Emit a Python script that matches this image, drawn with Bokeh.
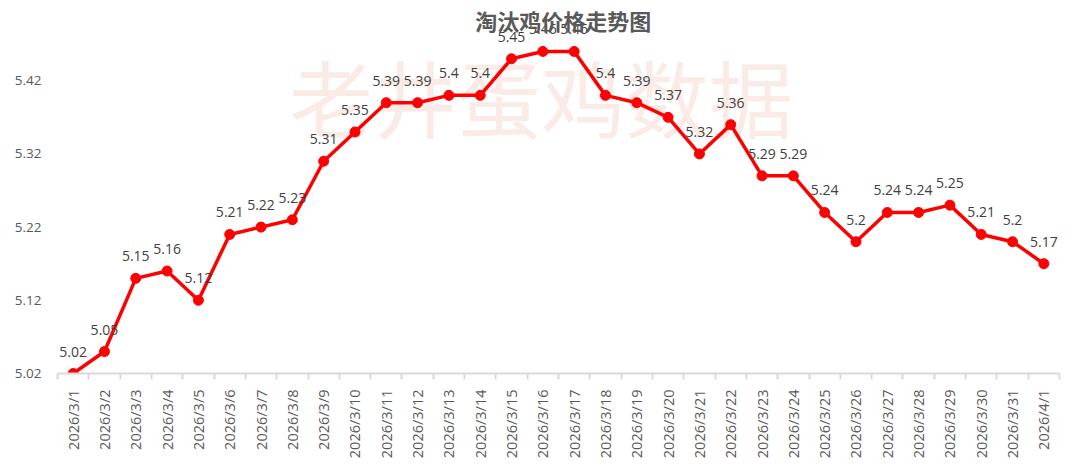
import math
from bokeh.plotting import figure
from bokeh.models import Range1d, FixedTicker, ColumnDataSource, Label
from bokeh.core.properties import value
from bokeh.embed import file_html
from bokeh.resources import INLINE

dates = ["2026/3/1", "2026/3/2", "2026/3/3", "2026/3/4", "2026/3/5", "2026/3/6", "2026/3/7", "2026/3/8",
         "2026/3/9", "2026/3/10", "2026/3/11", "2026/3/12", "2026/3/13", "2026/3/14", "2026/3/15", "2026/3/16",
         "2026/3/17", "2026/3/18", "2026/3/19", "2026/3/20", "2026/3/21", "2026/3/22", "2026/3/23", "2026/3/24",
         "2026/3/25", "2026/3/26", "2026/3/27", "2026/3/28", "2026/3/29", "2026/3/30", "2026/3/31", "2026/4/1"]
prices = [5.02, 5.05, 5.15, 5.16, 5.12, 5.21, 5.22, 5.23, 5.31, 5.35, 5.39, 5.39, 5.4, 5.4, 5.45, 5.46,
          5.46, 5.4, 5.39, 5.37, 5.32, 5.36, 5.29, 5.29, 5.24, 5.2, 5.24, 5.24, 5.25, 5.21, 5.2, 5.17]
y_ticks = [5.02, 5.12, 5.22, 5.32, 5.42]
title_text = "淘汰鸡价格走势图"
watermark = "老井蛋鸡数据"

n = len(dates)
xs = [i + 0.5 for i in range(n)]
labels = ["{:g}".format(v) for v in prices]
src = ColumnDataSource(dict(x=xs, y=prices, lab=labels))

p = figure(width=1072, height=461, output_backend="svg", toolbar_location=None,
           x_range=Range1d(0, n), y_range=Range1d(5.02, 5.5296),
           min_border_left=57, min_border_right=13, min_border_top=0, min_border_bottom=79)
p.outline_line_color = None
p.xgrid.visible = False
p.ygrid.visible = False
p.background_fill_color = "white"
p.border_fill_color = "white"

# watermark
p.text(x=[15.44], y=[5.40], text=[watermark], text_font=value("Noto Sans CJK SC"),
       text_font_size="84px", text_color="#fbebe6", text_align="center", text_baseline="middle")

p.line("x", "y", source=src, line_color="#ff0000", line_width=3.5)
p.scatter("x", "y", source=src, size=10, fill_color="#ff0000", line_color="#ff0000")
p.text("x", "y", text="lab", source=src, text_font=value("Open Sans"), text_font_size="14px",
       text_color="#404040", text_align="center", text_baseline="middle", y_offset=-22)

title = Label(x=16.15, y=5.5025, text=title_text, text_font="Noto Sans CJK SC",
              text_font_size="22px", text_font_style="bold", text_color="#595959",
              text_align="center", text_baseline="middle")
p.add_layout(title)

# x axis
p.xaxis.ticker = FixedTicker(ticks=xs, minor_ticks=list(range(n + 1)))
p.xaxis.major_label_overrides = {x: d for x, d in zip(xs, dates)}
p.xaxis.major_label_orientation = math.pi / 2
p.xaxis.major_tick_line_color = None
p.xaxis.minor_tick_line_color = "#d9d9d9"
p.xaxis.minor_tick_line_width = 2
p.xaxis.minor_tick_out = 6
p.xaxis.minor_tick_in = 0
p.xaxis.axis_line_color = "#d9d9d9"
p.xaxis.axis_line_width = 2
p.xaxis.major_label_text_font = "Open Sans"
p.xaxis.major_label_text_font_size = "14.5px"
p.xaxis.major_label_text_color = "#595959"
p.xaxis.major_label_standoff = 10

# y axis
p.yaxis.ticker = FixedTicker(ticks=y_ticks, minor_ticks=[])
p.yaxis.major_label_overrides = {t: "{:.2f}".format(t) for t in y_ticks}
p.yaxis.axis_line_color = None
p.yaxis.major_tick_line_color = None
p.yaxis.minor_tick_line_color = None
p.yaxis.major_label_text_font = "Open Sans"
p.yaxis.major_label_text_font_size = "13.5px"
p.yaxis.major_label_text_color = "#595959"
p.yaxis.major_label_standoff = 10

open("out.html", "w").write(file_html(p, INLINE))
